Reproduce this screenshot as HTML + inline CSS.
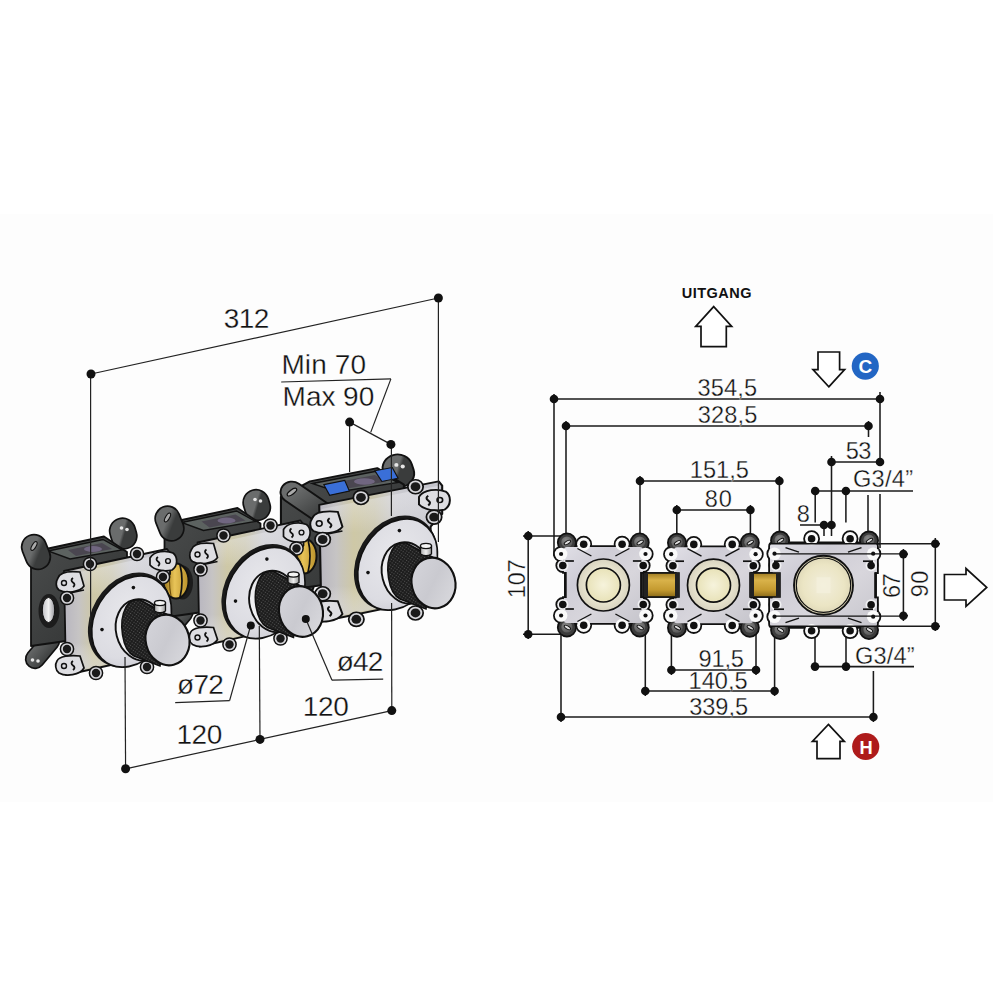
<!DOCTYPE html>
<html><head><meta charset="utf-8"><style>
html,body{margin:0;padding:0;background:#fff;}
svg{display:block;font-family:"Liberation Sans",sans-serif;}
</style></head><body>
<svg width="1000" height="1000" viewBox="0 0 1000 1000">
<rect width="1000" height="1000" fill="#fff"/>
<rect x="0" y="214" width="993" height="588" fill="#fdfdfd"/>

<defs>
<linearGradient id="plateG" x1="0" y1="0" x2="1" y2="1">
 <stop offset="0" stop-color="#e0dfe6"/><stop offset="0.3" stop-color="#cfcdd6"/><stop offset="0.6" stop-color="#d8d6dc"/><stop offset="1" stop-color="#c6c5cc"/>
</linearGradient>
<radialGradient id="ringG"><stop offset="0.6" stop-color="#ece8d2"/><stop offset="1" stop-color="#d8d3bf"/></radialGradient>
<radialGradient id="yelG"><stop offset="0" stop-color="#f6f3dc"/><stop offset="1" stop-color="#e8e2b8"/></radialGradient>
<radialGradient id="yelG2"><stop offset="0" stop-color="#f2eedc"/><stop offset="0.7" stop-color="#ebe5c4"/><stop offset="1" stop-color="#ddd6b6"/></radialGradient>
<linearGradient id="brassG" x1="0" y1="0" x2="0" y2="1">
 <stop offset="0" stop-color="#a07c22"/><stop offset="0.3" stop-color="#d9b24a"/><stop offset="0.7" stop-color="#c49a30"/><stop offset="1" stop-color="#8a6a18"/>
</linearGradient>
<linearGradient id="brassL" x1="0" y1="0" x2="1" y2="0">
 <stop offset="0" stop-color="#8a6a18"/><stop offset="0.5" stop-color="#d8b040"/><stop offset="1" stop-color="#a07c22"/>
</linearGradient>
<radialGradient id="earR" cx="0.4" cy="0.35" r="0.7"><stop offset="0" stop-color="#8a8a8a"/><stop offset="1" stop-color="#555"/></radialGradient>
<linearGradient id="earG" x1="0" y1="0" x2="1" y2="1"><stop offset="0" stop-color="#6a6c6c"/><stop offset="1" stop-color="#3a3c3c"/></linearGradient>
<linearGradient id="boxG" x1="0" y1="0" x2="1" y2="1"><stop offset="0" stop-color="#4b4d4d"/><stop offset="1" stop-color="#2e3030"/></linearGradient>
<linearGradient id="holeG" x1="0" y1="0" x2="1" y2="0"><stop offset="0" stop-color="#bfbfc4"/><stop offset="0.5" stop-color="#f0f0f0"/><stop offset="1" stop-color="#9a9aa0"/></linearGradient>
<linearGradient id="fplateG" x1="0" y1="0" x2="1" y2="0">
 <stop offset="0" stop-color="#b8b6c0"/><stop offset="0.14" stop-color="#c6c4c4"/><stop offset="0.28" stop-color="#cec8a6"/><stop offset="0.45" stop-color="#cbc7b0"/><stop offset="0.62" stop-color="#cbcbd0"/><stop offset="1" stop-color="#c2c2ca"/>
</linearGradient>
<radialGradient id="chromeG" cx="0.45" cy="0.4" r="0.7">
 <stop offset="0" stop-color="#e8e8ec"/><stop offset="0.7" stop-color="#dcdce2"/><stop offset="1" stop-color="#c8c8d0"/>
</radialGradient>
<linearGradient id="fplateV" x1="0" y1="0" x2="0" y2="1">
 <stop offset="0" stop-color="#e8e8ee"/><stop offset="0.35" stop-color="#ffffff" stop-opacity="0"/><stop offset="0.75" stop-color="#ffffff" stop-opacity="0"/><stop offset="1" stop-color="#d8d8e0"/>
</linearGradient>
<linearGradient id="brassE" x1="0" y1="0" x2="1" y2="0"><stop offset="0" stop-color="#9a7418"/><stop offset="0.45" stop-color="#e8c458"/><stop offset="1" stop-color="#b8902a"/></linearGradient>
<linearGradient id="sleeveG" x1="0" y1="0" x2="1" y2="0"><stop offset="0" stop-color="#f4f4f6"/><stop offset="1" stop-color="#b8b8be"/></linearGradient>
<linearGradient id="capG" x1="0" y1="0" x2="1" y2="1"><stop offset="0" stop-color="#d6d6dc"/><stop offset="0.5" stop-color="#cacad0"/><stop offset="1" stop-color="#dcdce0"/></linearGradient>
<linearGradient id="pinG" x1="0" y1="0" x2="1" y2="0"><stop offset="0" stop-color="#aaa"/><stop offset="0.5" stop-color="#eee"/><stop offset="1" stop-color="#999"/></linearGradient>
<pattern id="knurl" width="2.6" height="2.6" patternUnits="userSpaceOnUse" patternTransform="rotate(35)">
 <rect width="2.6" height="2.6" fill="#1c1c1c"/><circle cx="1.3" cy="1.3" r="0.65" fill="#555"/>
</pattern>
</defs>

<g transform="translate(266,-57)">
<g transform="translate(131.4,621.5) scale(1.16,1.065) translate(-131.4,-621.5)">
<g transform="translate(9,0)">
<line x1="122.5" y1="531" x2="124" y2="536" stroke="#111" stroke-width="27.4" stroke-linecap="round"/><line x1="122.5" y1="531" x2="124" y2="536" stroke="url(#earG)" stroke-width="24" stroke-linecap="round"/>
<circle cx="121.5" cy="528" r="1.8" fill="#e6e6e6"/><circle cx="127" cy="529.5" r="1.8" fill="#e6e6e6"/>
</g>
<line x1="35" y1="659" x2="50" y2="641" stroke="#111" stroke-width="20.4" stroke-linecap="round"/><line x1="35" y1="659" x2="50" y2="641" stroke="url(#earG)" stroke-width="17" stroke-linecap="round"/>
<circle cx="32.5" cy="660" r="1.8" fill="#e6e6e6"/><circle cx="38" cy="661" r="1.8" fill="#e6e6e6"/>
<path d="M31,558 L56,543.5 L114,531.0 L137,546.5 L137,554.5 L66,573 L66,641 L31,646 Z" fill="url(#boxG)" stroke="#111" stroke-width="1.8" stroke-linejoin="round"/>
<path d="M58,545.5 L113,534.0 L132,544.5 L80,553.5 Z" fill="#5c6260" stroke="#111" stroke-width="1.4"/>
<path d="M78,544.5 L112,537.5 L122,543.5 L86,550.5 Z" fill="#4a4650"/>
<ellipse cx="103" cy="543.5" rx="9" ry="3" fill="#8a7ca0" opacity="0.6"/>
<path d="M68,546.5 L86,542.5 L90,552.5 L73,556.5 Z" fill="#3a6fd8" stroke="#111" stroke-width="1"/>
<path d="M112,533.5 L127,530.5 L132,540.5 L118,543.5 Z" fill="#3a6fd8" stroke="#111" stroke-width="1"/>
<g transform="translate(9.5,8.5)">
<line x1="31" y1="545" x2="59" y2="566" stroke="#111" stroke-width="21.4" stroke-linecap="round"/><line x1="31" y1="545" x2="59" y2="566" stroke="url(#earG)" stroke-width="18" stroke-linecap="round"/>
<ellipse cx="31" cy="545" rx="5" ry="2" transform="rotate(-40 31 545)" fill="#aaa" stroke="#111" stroke-width="1.1"/>
</g>
<ellipse cx="49" cy="611" rx="10.5" ry="17" fill="#1c1c1c"/>
<ellipse cx="48.5" cy="610" rx="6.2" ry="12.5" fill="url(#holeG)" stroke="#111" stroke-width="1"/>
</g>
<g transform="translate(38,613)"><ellipse cx="0" cy="0" rx="12.5" ry="17.5" fill="url(#brassE)" stroke="#111" stroke-width="1.9"/><path d="M4,-16.5 Q8,0 4,16.5" fill="none" stroke="#111" stroke-width="1.7"/><path d="M-5,-15 Q-8,0 -5,15" fill="none" stroke="#6a4a08" stroke-width="1.1"/></g>
<g transform="translate(131.4,621.5) scale(1.16,1.065) translate(-131.4,-621.5)">
<path d="M64,565.5 L167,543.5 L170,547.5 L170,574 L160,586 L160,654 L66,675 Z" fill="url(#fplateG)" stroke="#111" stroke-width="1.8" stroke-linejoin="round"/>
<path d="M66,569.5 L167,547.5 L168,574 L158,586 L158,653 L66,673 Z" fill="url(#fplateV)" opacity="0.55"/>
<path d="M58,578 C60,572 70,571 80,572 L84,586 C80,592 66,594 59,590 C55,587 56,581 58,578 Z" fill="#dedee2" stroke="#111" stroke-width="1.7"/>
<path d="M57,661 C59,656 70,655 80,656 L84,668 C80,675 66,677 59,673 C55,670 55,664 57,661 Z" fill="#dedee2" stroke="#111" stroke-width="1.7"/>
<path d="M150,558 C154,551 166,550 173,553 C178,557 178,566 172,570 C164,572 154,570 150,565 Z" fill="#dedee2" stroke="#111" stroke-width="1.7"/>
<circle cx="67" cy="598" r="6.6" fill="#d6d6da" stroke="#111" stroke-width="1.5"/>
<circle cx="67" cy="598" r="4.2" fill="#1a1a1a"/>
<circle cx="67" cy="649" r="6.6" fill="#d6d6da" stroke="#111" stroke-width="1.5"/>
<circle cx="67" cy="649" r="4.2" fill="#1a1a1a"/>
<circle cx="96" cy="673" r="6.6" fill="#d6d6da" stroke="#111" stroke-width="1.5"/>
<circle cx="96" cy="673" r="4.2" fill="#1a1a1a"/>
<circle cx="100" cy="558.5" r="6.6" fill="#d6d6da" stroke="#111" stroke-width="1.5"/>
<circle cx="100" cy="558.5" r="4.2" fill="#1a1a1a"/>
<circle cx="147" cy="548.5" r="6.6" fill="#d6d6da" stroke="#111" stroke-width="1.5"/>
<circle cx="147" cy="548.5" r="4.2" fill="#1a1a1a"/>
<circle cx="163" cy="577" r="6.6" fill="#d6d6da" stroke="#111" stroke-width="1.5"/>
<circle cx="163" cy="577" r="4.2" fill="#1a1a1a"/>
<circle cx="147" cy="667" r="6.6" fill="#d6d6da" stroke="#111" stroke-width="1.5"/>
<circle cx="147" cy="667" r="4.2" fill="#1a1a1a"/>
<circle cx="64" cy="583" r="2.5" fill="none" stroke="#111" stroke-width="1.4"/>
<path d="M73,578 q-3,2 0,4.5 q3,2 0,4.5" fill="none" stroke="#111" stroke-width="1.8"/>
<circle cx="64" cy="666" r="2.5" fill="none" stroke="#111" stroke-width="1.4"/>
<path d="M73,661 q-3,2 0,4.5 q3,2 0,4.5" fill="none" stroke="#111" stroke-width="1.8"/>
<circle cx="168" cy="561" r="2.4" fill="none" stroke="#111" stroke-width="1.4"/>
<path d="M158,557 q-3,2 0,4.5 q3,2 0,4.5" fill="none" stroke="#111" stroke-width="1.8"/>
<line x1="70" y1="593" x2="84" y2="590" stroke="#111" stroke-width="1.5"/>
</g>
<g transform="matrix(40.8,-7.5,-2.6,45.8,129.6,619.8)"><circle r="1.02" fill="#1a1a1a"/></g>
<g transform="matrix(39.8,-7.5,-2.6,45,131.6,621.5)"><circle r="1" fill="url(#chromeG)" stroke="#111" stroke-width="0.04"/></g>
<circle cx="133.4" cy="587.6" r="1.8" fill="#111"/><circle cx="102" cy="629.6" r="1.8" fill="#111"/>
<ellipse cx="141" cy="630" rx="25" ry="31" transform="rotate(-14 141 630)" fill="url(#sleeveG)" stroke="#111" stroke-width="1.9"/>
<path d="M140,600 L168,615 L160,666 L134,656 C122,650 118,622 126,607 C129,602 134,599 140,600 Z" fill="url(#knurl)" stroke="#111" stroke-width="1.5"/>
<path d="M154.5,603 L154.5,611 Q160,614.5 165.5,611 L165.5,603 Z" fill="url(#pinG)" stroke="#111" stroke-width="1.3"/>
<ellipse cx="160" cy="603" rx="5.5" ry="2.6" fill="#f4f4f4" stroke="#111" stroke-width="1.3"/>
<ellipse cx="167.5" cy="640" rx="21.8" ry="25.5" transform="rotate(-14 167.5 640)" fill="url(#capG)" stroke="#111" stroke-width="2.1"/>
</g>
<g transform="translate(133.5,-28.5)">
<g transform="translate(131.4,621.5) scale(1.0,1.0) translate(-131.4,-621.5)">
<g transform="translate(0,0)">
<line x1="122.5" y1="531" x2="124" y2="536" stroke="#111" stroke-width="27.4" stroke-linecap="round"/><line x1="122.5" y1="531" x2="124" y2="536" stroke="url(#earG)" stroke-width="24" stroke-linecap="round"/>
<circle cx="121.5" cy="528" r="1.8" fill="#e6e6e6"/><circle cx="127" cy="529.5" r="1.8" fill="#e6e6e6"/>
</g>
<line x1="35" y1="659" x2="50" y2="641" stroke="#111" stroke-width="20.4" stroke-linecap="round"/><line x1="35" y1="659" x2="50" y2="641" stroke="url(#earG)" stroke-width="17" stroke-linecap="round"/>
<circle cx="32.5" cy="660" r="1.8" fill="#e6e6e6"/><circle cx="38" cy="661" r="1.8" fill="#e6e6e6"/>
<path d="M31,558 L46,549 L104,536.5 L127,552 L127,560 L66,573 L66,641 L31,646 Z" fill="url(#boxG)" stroke="#111" stroke-width="1.8" stroke-linejoin="round"/>
<path d="M48,551 L103,539.5 L122,550 L70,559 Z" fill="#5c6260" stroke="#111" stroke-width="1.4"/>
<path d="M68,550 L102,543 L112,549 L76,556 Z" fill="#4a4650"/>
<ellipse cx="93" cy="549" rx="9" ry="3" fill="#8a7ca0" opacity="0.6"/>
<g transform="translate(0,0)">
<line x1="34" y1="547" x2="38" y2="557" stroke="#111" stroke-width="26.4" stroke-linecap="round"/><line x1="34" y1="547" x2="38" y2="557" stroke="url(#earG)" stroke-width="23" stroke-linecap="round"/>
<ellipse cx="34" cy="546" rx="5" ry="2" transform="rotate(-60 34 546)" fill="#aaa" stroke="#111" stroke-width="1.1"/>
</g>
<ellipse cx="49" cy="611" rx="10.5" ry="17" fill="#1c1c1c"/>
<ellipse cx="48.5" cy="610" rx="6.2" ry="12.5" fill="url(#holeG)" stroke="#111" stroke-width="1"/>
</g>
<g transform="translate(42.5,609.5)"><ellipse cx="0" cy="0" rx="12.5" ry="17.5" fill="url(#brassE)" stroke="#111" stroke-width="1.9"/><path d="M4,-16.5 Q8,0 4,16.5" fill="none" stroke="#111" stroke-width="1.7"/><path d="M-5,-15 Q-8,0 -5,15" fill="none" stroke="#6a4a08" stroke-width="1.1"/></g>
<g transform="translate(131.4,621.5) scale(1.0,1.0) translate(-131.4,-621.5)">
<path d="M64,571 L167,549 L170,553 L170,574 L160,586 L160,654 L66,675 Z" fill="url(#fplateG)" stroke="#111" stroke-width="1.8" stroke-linejoin="round"/>
<path d="M66,575 L167,553 L168,574 L158,586 L158,653 L66,673 Z" fill="url(#fplateV)" opacity="0.55"/>
<path d="M58,578 C60,572 70,571 80,572 L84,586 C80,592 66,594 59,590 C55,587 56,581 58,578 Z" fill="#dedee2" stroke="#111" stroke-width="1.7"/>
<path d="M57,661 C59,656 70,655 80,656 L84,668 C80,675 66,677 59,673 C55,670 55,664 57,661 Z" fill="#dedee2" stroke="#111" stroke-width="1.7"/>
<path d="M150,558 C154,551 166,550 173,553 C178,557 178,566 172,570 C164,572 154,570 150,565 Z" fill="#dedee2" stroke="#111" stroke-width="1.7"/>
<circle cx="67" cy="598" r="6.6" fill="#d6d6da" stroke="#111" stroke-width="1.5"/>
<circle cx="67" cy="598" r="4.2" fill="#1a1a1a"/>
<circle cx="67" cy="649" r="6.6" fill="#d6d6da" stroke="#111" stroke-width="1.5"/>
<circle cx="67" cy="649" r="4.2" fill="#1a1a1a"/>
<circle cx="96" cy="673" r="6.6" fill="#d6d6da" stroke="#111" stroke-width="1.5"/>
<circle cx="96" cy="673" r="4.2" fill="#1a1a1a"/>
<circle cx="90" cy="564" r="6.6" fill="#d6d6da" stroke="#111" stroke-width="1.5"/>
<circle cx="90" cy="564" r="4.2" fill="#1a1a1a"/>
<circle cx="137" cy="554" r="6.6" fill="#d6d6da" stroke="#111" stroke-width="1.5"/>
<circle cx="137" cy="554" r="4.2" fill="#1a1a1a"/>
<circle cx="163" cy="577" r="6.6" fill="#d6d6da" stroke="#111" stroke-width="1.5"/>
<circle cx="163" cy="577" r="4.2" fill="#1a1a1a"/>
<circle cx="147" cy="667" r="6.6" fill="#d6d6da" stroke="#111" stroke-width="1.5"/>
<circle cx="147" cy="667" r="4.2" fill="#1a1a1a"/>
<circle cx="64" cy="583" r="2.5" fill="none" stroke="#111" stroke-width="1.4"/>
<path d="M73,578 q-3,2 0,4.5 q3,2 0,4.5" fill="none" stroke="#111" stroke-width="1.8"/>
<circle cx="64" cy="666" r="2.5" fill="none" stroke="#111" stroke-width="1.4"/>
<path d="M73,661 q-3,2 0,4.5 q3,2 0,4.5" fill="none" stroke="#111" stroke-width="1.8"/>
<circle cx="168" cy="561" r="2.4" fill="none" stroke="#111" stroke-width="1.4"/>
<path d="M158,557 q-3,2 0,4.5 q3,2 0,4.5" fill="none" stroke="#111" stroke-width="1.8"/>
<line x1="70" y1="593" x2="84" y2="590" stroke="#111" stroke-width="1.5"/>
</g>
<g transform="matrix(40.8,-7.5,-2.6,45.8,129.6,619.8)"><circle r="1.02" fill="#1a1a1a"/></g>
<g transform="matrix(39.8,-7.5,-2.6,45,131.6,621.5)"><circle r="1" fill="url(#chromeG)" stroke="#111" stroke-width="0.04"/></g>
<circle cx="133.4" cy="587.6" r="1.8" fill="#111"/><circle cx="102" cy="629.6" r="1.8" fill="#111"/>
<ellipse cx="141" cy="630" rx="25" ry="31" transform="rotate(-14 141 630)" fill="url(#sleeveG)" stroke="#111" stroke-width="1.9"/>
<path d="M140,600 L168,615 L160,666 L134,656 C122,650 118,622 126,607 C129,602 134,599 140,600 Z" fill="url(#knurl)" stroke="#111" stroke-width="1.5"/>
<path d="M154.5,603 L154.5,611 Q160,614.5 165.5,611 L165.5,603 Z" fill="url(#pinG)" stroke="#111" stroke-width="1.3"/>
<ellipse cx="160" cy="603" rx="5.5" ry="2.6" fill="#f4f4f4" stroke="#111" stroke-width="1.3"/>
<ellipse cx="167.5" cy="640" rx="21.8" ry="25.5" transform="rotate(-14 167.5 640)" fill="url(#capG)" stroke="#111" stroke-width="2.1"/>
</g>
<g transform="translate(0,0)">
<g transform="translate(131.4,621.5) scale(1.0,1.0) translate(-131.4,-621.5)">
<g transform="translate(0,0)">
<line x1="122.5" y1="531" x2="124" y2="536" stroke="#111" stroke-width="27.4" stroke-linecap="round"/><line x1="122.5" y1="531" x2="124" y2="536" stroke="url(#earG)" stroke-width="24" stroke-linecap="round"/>
<circle cx="121.5" cy="528" r="1.8" fill="#e6e6e6"/><circle cx="127" cy="529.5" r="1.8" fill="#e6e6e6"/>
</g>
<line x1="35" y1="659" x2="50" y2="641" stroke="#111" stroke-width="20.4" stroke-linecap="round"/><line x1="35" y1="659" x2="50" y2="641" stroke="url(#earG)" stroke-width="17" stroke-linecap="round"/>
<circle cx="32.5" cy="660" r="1.8" fill="#e6e6e6"/><circle cx="38" cy="661" r="1.8" fill="#e6e6e6"/>
<path d="M31,558 L46,549 L104,536.5 L127,552 L127,560 L66,573 L66,641 L31,646 Z" fill="url(#boxG)" stroke="#111" stroke-width="1.8" stroke-linejoin="round"/>
<path d="M48,551 L103,539.5 L122,550 L70,559 Z" fill="#5c6260" stroke="#111" stroke-width="1.4"/>
<path d="M68,550 L102,543 L112,549 L76,556 Z" fill="#4a4650"/>
<ellipse cx="93" cy="549" rx="9" ry="3" fill="#8a7ca0" opacity="0.6"/>
<g transform="translate(0,0)">
<line x1="34" y1="547" x2="38" y2="557" stroke="#111" stroke-width="26.4" stroke-linecap="round"/><line x1="34" y1="547" x2="38" y2="557" stroke="url(#earG)" stroke-width="23" stroke-linecap="round"/>
<ellipse cx="34" cy="546" rx="5" ry="2" transform="rotate(-60 34 546)" fill="#aaa" stroke="#111" stroke-width="1.1"/>
</g>
<ellipse cx="49" cy="611" rx="10.5" ry="17" fill="#1c1c1c"/>
<ellipse cx="48.5" cy="610" rx="6.2" ry="12.5" fill="url(#holeG)" stroke="#111" stroke-width="1"/>
<path d="M64,571 L167,549 L170,553 L170,574 L160,586 L160,654 L66,675 Z" fill="url(#fplateG)" stroke="#111" stroke-width="1.8" stroke-linejoin="round"/>
<path d="M66,575 L167,553 L168,574 L158,586 L158,653 L66,673 Z" fill="url(#fplateV)" opacity="0.55"/>
<path d="M58,578 C60,572 70,571 80,572 L84,586 C80,592 66,594 59,590 C55,587 56,581 58,578 Z" fill="#dedee2" stroke="#111" stroke-width="1.7"/>
<path d="M57,661 C59,656 70,655 80,656 L84,668 C80,675 66,677 59,673 C55,670 55,664 57,661 Z" fill="#dedee2" stroke="#111" stroke-width="1.7"/>
<path d="M150,558 C154,551 166,550 173,553 C178,557 178,566 172,570 C164,572 154,570 150,565 Z" fill="#dedee2" stroke="#111" stroke-width="1.7"/>
<circle cx="67" cy="598" r="6.6" fill="#d6d6da" stroke="#111" stroke-width="1.5"/>
<circle cx="67" cy="598" r="4.2" fill="#1a1a1a"/>
<circle cx="67" cy="649" r="6.6" fill="#d6d6da" stroke="#111" stroke-width="1.5"/>
<circle cx="67" cy="649" r="4.2" fill="#1a1a1a"/>
<circle cx="96" cy="673" r="6.6" fill="#d6d6da" stroke="#111" stroke-width="1.5"/>
<circle cx="96" cy="673" r="4.2" fill="#1a1a1a"/>
<circle cx="90" cy="564" r="6.6" fill="#d6d6da" stroke="#111" stroke-width="1.5"/>
<circle cx="90" cy="564" r="4.2" fill="#1a1a1a"/>
<circle cx="137" cy="554" r="6.6" fill="#d6d6da" stroke="#111" stroke-width="1.5"/>
<circle cx="137" cy="554" r="4.2" fill="#1a1a1a"/>
<circle cx="163" cy="577" r="6.6" fill="#d6d6da" stroke="#111" stroke-width="1.5"/>
<circle cx="163" cy="577" r="4.2" fill="#1a1a1a"/>
<circle cx="147" cy="667" r="6.6" fill="#d6d6da" stroke="#111" stroke-width="1.5"/>
<circle cx="147" cy="667" r="4.2" fill="#1a1a1a"/>
<circle cx="64" cy="583" r="2.5" fill="none" stroke="#111" stroke-width="1.4"/>
<path d="M73,578 q-3,2 0,4.5 q3,2 0,4.5" fill="none" stroke="#111" stroke-width="1.8"/>
<circle cx="64" cy="666" r="2.5" fill="none" stroke="#111" stroke-width="1.4"/>
<path d="M73,661 q-3,2 0,4.5 q3,2 0,4.5" fill="none" stroke="#111" stroke-width="1.8"/>
<circle cx="168" cy="561" r="2.4" fill="none" stroke="#111" stroke-width="1.4"/>
<path d="M158,557 q-3,2 0,4.5 q3,2 0,4.5" fill="none" stroke="#111" stroke-width="1.8"/>
<line x1="70" y1="593" x2="84" y2="590" stroke="#111" stroke-width="1.5"/>
</g>
<g transform="matrix(40.8,-7.5,-2.6,45.8,129.6,619.8)"><circle r="1.02" fill="#1a1a1a"/></g>
<g transform="matrix(39.8,-7.5,-2.6,45,131.6,621.5)"><circle r="1" fill="url(#chromeG)" stroke="#111" stroke-width="0.04"/></g>
<circle cx="133.4" cy="587.6" r="1.8" fill="#111"/><circle cx="102" cy="629.6" r="1.8" fill="#111"/>
<ellipse cx="141" cy="630" rx="25" ry="31" transform="rotate(-14 141 630)" fill="url(#sleeveG)" stroke="#111" stroke-width="1.9"/>
<path d="M140,600 L168,615 L160,666 L134,656 C122,650 118,622 126,607 C129,602 134,599 140,600 Z" fill="url(#knurl)" stroke="#111" stroke-width="1.5"/>
<path d="M154.5,603 L154.5,611 Q160,614.5 165.5,611 L165.5,603 Z" fill="url(#pinG)" stroke="#111" stroke-width="1.3"/>
<ellipse cx="160" cy="603" rx="5.5" ry="2.6" fill="#f4f4f4" stroke="#111" stroke-width="1.3"/>
<ellipse cx="167.5" cy="640" rx="21.8" ry="25.5" transform="rotate(-14 167.5 640)" fill="url(#capG)" stroke="#111" stroke-width="2.1"/>
</g>
<line x1="91" y1="374" x2="438.4" y2="298" stroke="#222" stroke-width="1.2"/>
<line x1="90.6" y1="374" x2="90.6" y2="622" stroke="#222" stroke-width="1.2"/>
<line x1="438.4" y1="298" x2="438.4" y2="542" stroke="#222" stroke-width="1.2"/>
<circle cx="91" cy="374" r="4.5" fill="#111"/>
<circle cx="438.4" cy="298" r="4.5" fill="#111"/>
<line x1="281.2" y1="382" x2="390.9" y2="378.9" stroke="#222" stroke-width="1.2"/>
<line x1="390.9" y1="378.9" x2="370.7" y2="432.4" stroke="#222" stroke-width="1.2"/>
<line x1="349.6" y1="422.1" x2="390.9" y2="444.4" stroke="#222" stroke-width="1.2"/>
<line x1="349.6" y1="422" x2="349.6" y2="472" stroke="#222" stroke-width="1.2"/>
<line x1="391.4" y1="444" x2="391.4" y2="516" stroke="#222" stroke-width="1.2"/>
<line x1="391.6" y1="603" x2="391.8" y2="710.6" stroke="#222" stroke-width="1.2"/>
<circle cx="349.6" cy="422.1" r="4.5" fill="#111"/>
<circle cx="390.9" cy="444.4" r="4.5" fill="#111"/>
<line x1="125.6" y1="768.8" x2="391.8" y2="710.6" stroke="#222" stroke-width="1.2"/>
<line x1="125" y1="657" x2="125.6" y2="768.8" stroke="#222" stroke-width="1.2"/>
<line x1="259.3" y1="626" x2="260" y2="739.4" stroke="#222" stroke-width="1.2"/>
<circle cx="125.6" cy="768.8" r="4.5" fill="#111"/>
<circle cx="260" cy="739.4" r="4.5" fill="#111"/>
<circle cx="391.8" cy="710.6" r="4.5" fill="#111"/>
<line x1="250.8" y1="625" x2="229.6" y2="700.6" stroke="#222" stroke-width="1.2"/>
<line x1="229.6" y1="700.6" x2="175.2" y2="702.6" stroke="#222" stroke-width="1.2"/>
<circle cx="250.8" cy="625.5" r="4" fill="#111"/>
<line x1="305.8" y1="619" x2="332" y2="680.2" stroke="#222" stroke-width="1.2"/>
<line x1="332" y1="680.2" x2="383.2" y2="679.2" stroke="#222" stroke-width="1.2"/>
<circle cx="305.8" cy="619" r="4" fill="#111"/>
<g fill="#111" stroke="#fff" stroke-width="0.3" font-family="Liberation Sans, sans-serif"><text x="223.8" y="327.65" font-size="28" textLength="45.52" lengthAdjust="spacing">312</text><text x="281.4" y="374.45" font-size="28" textLength="84.64" lengthAdjust="spacing">Min 70</text><text x="282.6" y="405.85" font-size="28" textLength="91.62" lengthAdjust="spacing">Max 90</text><text x="176.4" y="743.6" font-size="28" textLength="45.92" lengthAdjust="spacing">120</text><text x="302.8" y="715.6" font-size="28" textLength="45.92" lengthAdjust="spacing">120</text><text x="177.1" y="693.55" font-size="28" textLength="46.65" lengthAdjust="spacing">&#248;72</text><text x="336.8" y="671.0" font-size="28" textLength="46.65" lengthAdjust="spacing">&#248;42</text></g>
<g><line x1="554" y1="394" x2="554" y2="556" stroke="#1a1a1a" stroke-width="1.55"/><line x1="554" y1="399" x2="880" y2="399" stroke="#1a1a1a" stroke-width="1.55"/><line x1="880" y1="392" x2="880" y2="462" stroke="#1a1a1a" stroke-width="1.55"/><line x1="880" y1="494" x2="880" y2="548" stroke="#1a1a1a" stroke-width="1.55"/><line x1="566" y1="421" x2="566" y2="540" stroke="#1a1a1a" stroke-width="1.55"/><line x1="566" y1="426" x2="868.5" y2="426" stroke="#1a1a1a" stroke-width="1.55"/><line x1="868.5" y1="421" x2="868.5" y2="437" stroke="#1a1a1a" stroke-width="1.55"/><line x1="868" y1="495" x2="868" y2="545" stroke="#1a1a1a" stroke-width="1.55"/><line x1="831.5" y1="456" x2="831.5" y2="536" stroke="#1a1a1a" stroke-width="1.55"/><line x1="831.5" y1="462" x2="880" y2="462" stroke="#1a1a1a" stroke-width="1.55"/><line x1="640" y1="476" x2="640" y2="540" stroke="#1a1a1a" stroke-width="1.55"/><line x1="640" y1="481" x2="779.4" y2="481" stroke="#1a1a1a" stroke-width="1.55"/><line x1="779.4" y1="476" x2="779.4" y2="540" stroke="#1a1a1a" stroke-width="1.55"/><line x1="676.8" y1="505" x2="676.8" y2="540" stroke="#1a1a1a" stroke-width="1.55"/><line x1="676.8" y1="510" x2="750.4" y2="510" stroke="#1a1a1a" stroke-width="1.55"/><line x1="750.4" y1="505" x2="750.4" y2="540" stroke="#1a1a1a" stroke-width="1.55"/><line x1="815.2" y1="491" x2="913" y2="491" stroke="#1a1a1a" stroke-width="1.55"/><line x1="815.2" y1="491" x2="815.2" y2="522.5" stroke="#1a1a1a" stroke-width="1.55"/><line x1="845.9" y1="491" x2="845.9" y2="522.5" stroke="#1a1a1a" stroke-width="1.55"/><line x1="800" y1="525" x2="831.5" y2="525" stroke="#1a1a1a" stroke-width="1.55"/><line x1="824" y1="525" x2="824" y2="536" stroke="#1a1a1a" stroke-width="1.55"/><line x1="671.4" y1="628" x2="671.4" y2="675" stroke="#1a1a1a" stroke-width="1.55"/><line x1="671.4" y1="670" x2="756" y2="670" stroke="#1a1a1a" stroke-width="1.55"/><line x1="756" y1="628" x2="756" y2="675" stroke="#1a1a1a" stroke-width="1.55"/><line x1="645.3" y1="628" x2="645.3" y2="696" stroke="#1a1a1a" stroke-width="1.55"/><line x1="645.3" y1="691" x2="774.6" y2="691" stroke="#1a1a1a" stroke-width="1.55"/><line x1="774.6" y1="628" x2="774.6" y2="696" stroke="#1a1a1a" stroke-width="1.55"/><line x1="561" y1="620" x2="561" y2="722" stroke="#1a1a1a" stroke-width="1.55"/><line x1="561" y1="717" x2="873.4" y2="717" stroke="#1a1a1a" stroke-width="1.55"/><line x1="873.4" y1="671" x2="873.4" y2="722" stroke="#1a1a1a" stroke-width="1.55"/><line x1="815" y1="636" x2="815" y2="667" stroke="#1a1a1a" stroke-width="1.55"/><line x1="846" y1="636" x2="846" y2="667" stroke="#1a1a1a" stroke-width="1.55"/><line x1="815" y1="666.6" x2="914" y2="666.6" stroke="#1a1a1a" stroke-width="1.55"/><line x1="528.2" y1="531" x2="528.2" y2="639" stroke="#1a1a1a" stroke-width="1.55"/><line x1="523" y1="536" x2="568" y2="536" stroke="#1a1a1a" stroke-width="1.55"/><line x1="523" y1="634.2" x2="568" y2="634.2" stroke="#1a1a1a" stroke-width="1.55"/><line x1="935.3" y1="538" x2="935.3" y2="631" stroke="#1a1a1a" stroke-width="1.55"/><line x1="860" y1="543.7" x2="940" y2="543.7" stroke="#1a1a1a" stroke-width="1.55"/><line x1="860" y1="626.3" x2="940" y2="626.3" stroke="#1a1a1a" stroke-width="1.55"/><line x1="903.4" y1="549" x2="903.4" y2="621" stroke="#1a1a1a" stroke-width="1.55"/><line x1="903.4" y1="554.1" x2="908" y2="554.1" stroke="#1a1a1a" stroke-width="1.55"/><line x1="903.4" y1="615.7" x2="908" y2="615.7" stroke="#1a1a1a" stroke-width="1.55"/></g>
<rect x="644" y="573" width="35" height="24" fill="url(#brassG)" stroke="#111" stroke-width="1.6"/>
<rect x="644" y="573" width="4" height="24" fill="#222"/>
<rect x="675" y="573" width="4" height="24" fill="#222"/>
<rect x="750" y="573" width="30" height="24" fill="url(#brassG)" stroke="#111" stroke-width="1.6"/>
<rect x="750" y="573" width="4" height="24" fill="#222"/>
<rect x="776" y="573" width="4" height="24" fill="#222"/>
<g transform="translate(603.4,585)">
<g fill="#111" stroke="#111" stroke-width="3.6"><circle cx="-36.5" cy="-42.5" r="8.2"/><circle cx="36.3" cy="-42.5" r="8.2"/><circle cx="-36.5" cy="42.5" r="8.2"/><circle cx="36.3" cy="42.5" r="8.2"/><circle cx="-19.7" cy="-40.8" r="6.6"/><circle cx="18.7" cy="-40.8" r="6.6"/><circle cx="-19.7" cy="40.3" r="6.6"/><circle cx="18.7" cy="40.3" r="6.6"/><circle cx="-42.3" cy="-31" r="6.3"/><circle cx="42.1" cy="-31" r="6.3"/><circle cx="-42.3" cy="30.5" r="6.3"/><circle cx="42.1" cy="30.5" r="6.3"/><circle cx="-40.6" cy="-19.5" r="5.6"/><circle cx="39.8" cy="-19.5" r="5.6"/><circle cx="-40.6" cy="19.5" r="5.6"/><circle cx="39.8" cy="19.5" r="5.6"/><path d="M-36.5,-38 H36.5 Q39.5,-38 39.5,-35 V-13 H37.5 V13 H39.5 V35 Q39.5,38 36.5,38 H-36.5 Q-39.5,38 -39.5,35 V13 H-37.5 V-13 H-39.5 V-35 Q-39.5,-38 -36.5,-38 Z"/></g>
<circle cx="-36.5" cy="-42.5" r="8.2" fill="#3c3c3c"/><circle cx="-36.5" cy="-43.0" r="5.6" fill="url(#earR)"/><circle cx="36.3" cy="-42.5" r="8.2" fill="#3c3c3c"/><circle cx="36.3" cy="-43.0" r="5.6" fill="url(#earR)"/><circle cx="-36.5" cy="42.5" r="8.2" fill="#3c3c3c"/><circle cx="-36.5" cy="42.0" r="5.6" fill="url(#earR)"/><circle cx="36.3" cy="42.5" r="8.2" fill="#3c3c3c"/><circle cx="36.3" cy="42.0" r="5.6" fill="url(#earR)"/><path d="M-36.5,-38 H36.5 Q39.5,-38 39.5,-35 V-13 H37.5 V13 H39.5 V35 Q39.5,38 36.5,38 H-36.5 Q-39.5,38 -39.5,35 V13 H-37.5 V-13 H-39.5 V-35 Q-39.5,-38 -36.5,-38 Z" fill="url(#plateG)"/><circle cx="-19.7" cy="-40.8" r="6.6" fill="#fafafa"/><circle cx="18.7" cy="-40.8" r="6.6" fill="#fafafa"/><circle cx="-19.7" cy="40.3" r="6.6" fill="#fafafa"/><circle cx="18.7" cy="40.3" r="6.6" fill="#fafafa"/><circle cx="-42.3" cy="-31" r="6.3" fill="#fafafa"/><circle cx="42.1" cy="-31" r="6.3" fill="#fafafa"/><circle cx="-42.3" cy="30.5" r="6.3" fill="#fafafa"/><circle cx="42.1" cy="30.5" r="6.3" fill="#fafafa"/><circle cx="-40.6" cy="-19.5" r="5.6" fill="#f0f0f2"/><circle cx="39.8" cy="-19.5" r="5.6" fill="#f0f0f2"/><circle cx="-40.6" cy="19.5" r="5.6" fill="#f0f0f2"/><circle cx="39.8" cy="19.5" r="5.6" fill="#f0f0f2"/>
<path d="M-38.0,-13 V13 M38.0,-13 V13" stroke="#111" stroke-width="2.6" fill="none"/>
<circle r="26" fill="url(#ringG)" stroke="#111" stroke-width="1.7"/><circle r="17" fill="url(#yelG)" stroke="#111" stroke-width="1.7"/>
<circle cx="-19.7" cy="-40.8" r="3.8" fill="#111"/><circle cx="18.7" cy="-40.8" r="3.8" fill="#111"/><circle cx="-19.7" cy="40.3" r="3.8" fill="#111"/><circle cx="18.7" cy="40.3" r="3.8" fill="#111"/><circle cx="-40.6" cy="-19.5" r="3.8" fill="#111"/><circle cx="39.8" cy="-19.5" r="3.8" fill="#111"/><circle cx="-40.6" cy="19.5" r="3.8" fill="#111"/><circle cx="39.8" cy="19.5" r="3.8" fill="#111"/><circle cx="-42.3" cy="-31" r="2.1" fill="#111"/><circle cx="42.1" cy="-31" r="2.1" fill="#111"/><circle cx="-42.3" cy="30.5" r="2.1" fill="#111"/><circle cx="42.1" cy="30.5" r="2.1" fill="#111"/><ellipse cx="-36.0" cy="-42.5" rx="3.6" ry="1.5" fill="#ddd" stroke="#111" stroke-width="0.9" transform="rotate(-30 -36.0 -42.5)"/><ellipse cx="36.8" cy="-42.5" rx="3.6" ry="1.5" fill="#ddd" stroke="#111" stroke-width="0.9" transform="rotate(-30 36.8 -42.5)"/><ellipse cx="-36.0" cy="42.5" rx="3.6" ry="1.5" fill="#ddd" stroke="#111" stroke-width="0.9" transform="rotate(30 -36.0 42.5)"/><ellipse cx="36.8" cy="42.5" rx="3.6" ry="1.5" fill="#ddd" stroke="#111" stroke-width="0.9" transform="rotate(30 36.8 42.5)"/>
<line x1="-38" y1="-24" x2="-29.5" y2="-24" stroke="#111" stroke-width="1.7"/><line x1="-26" y1="-36.5" x2="-12" y2="-29" stroke="#111" stroke-width="1.4"/><line x1="-38" y1="24" x2="-29.5" y2="24" stroke="#111" stroke-width="1.7"/><line x1="-26" y1="36.5" x2="-12" y2="29" stroke="#111" stroke-width="1.4"/><line x1="38" y1="-24" x2="29.5" y2="-24" stroke="#111" stroke-width="1.7"/><line x1="26" y1="-36.5" x2="12" y2="-29" stroke="#111" stroke-width="1.4"/><line x1="38" y1="24" x2="29.5" y2="24" stroke="#111" stroke-width="1.7"/><line x1="26" y1="36.5" x2="12" y2="29" stroke="#111" stroke-width="1.4"/>
</g>
<g transform="translate(713.5,585.2)">
<g fill="#111" stroke="#111" stroke-width="3.6"><circle cx="-36.5" cy="-42.5" r="8.2"/><circle cx="36.3" cy="-42.5" r="8.2"/><circle cx="-36.5" cy="42.5" r="8.2"/><circle cx="36.3" cy="42.5" r="8.2"/><circle cx="-19.7" cy="-40.8" r="6.6"/><circle cx="18.7" cy="-40.8" r="6.6"/><circle cx="-19.7" cy="40.3" r="6.6"/><circle cx="18.7" cy="40.3" r="6.6"/><circle cx="-42.3" cy="-31" r="6.3"/><circle cx="42.1" cy="-31" r="6.3"/><circle cx="-42.3" cy="30.5" r="6.3"/><circle cx="42.1" cy="30.5" r="6.3"/><circle cx="-40.6" cy="-19.5" r="5.6"/><circle cx="39.8" cy="-19.5" r="5.6"/><circle cx="-40.6" cy="19.5" r="5.6"/><circle cx="39.8" cy="19.5" r="5.6"/><path d="M-36.5,-38 H36.5 Q39.5,-38 39.5,-35 V-13 H37.5 V13 H39.5 V35 Q39.5,38 36.5,38 H-36.5 Q-39.5,38 -39.5,35 V13 H-37.5 V-13 H-39.5 V-35 Q-39.5,-38 -36.5,-38 Z"/></g>
<circle cx="-36.5" cy="-42.5" r="8.2" fill="#3c3c3c"/><circle cx="-36.5" cy="-43.0" r="5.6" fill="url(#earR)"/><circle cx="36.3" cy="-42.5" r="8.2" fill="#3c3c3c"/><circle cx="36.3" cy="-43.0" r="5.6" fill="url(#earR)"/><circle cx="-36.5" cy="42.5" r="8.2" fill="#3c3c3c"/><circle cx="-36.5" cy="42.0" r="5.6" fill="url(#earR)"/><circle cx="36.3" cy="42.5" r="8.2" fill="#3c3c3c"/><circle cx="36.3" cy="42.0" r="5.6" fill="url(#earR)"/><path d="M-36.5,-38 H36.5 Q39.5,-38 39.5,-35 V-13 H37.5 V13 H39.5 V35 Q39.5,38 36.5,38 H-36.5 Q-39.5,38 -39.5,35 V13 H-37.5 V-13 H-39.5 V-35 Q-39.5,-38 -36.5,-38 Z" fill="url(#plateG)"/><circle cx="-19.7" cy="-40.8" r="6.6" fill="#fafafa"/><circle cx="18.7" cy="-40.8" r="6.6" fill="#fafafa"/><circle cx="-19.7" cy="40.3" r="6.6" fill="#fafafa"/><circle cx="18.7" cy="40.3" r="6.6" fill="#fafafa"/><circle cx="-42.3" cy="-31" r="6.3" fill="#fafafa"/><circle cx="42.1" cy="-31" r="6.3" fill="#fafafa"/><circle cx="-42.3" cy="30.5" r="6.3" fill="#fafafa"/><circle cx="42.1" cy="30.5" r="6.3" fill="#fafafa"/><circle cx="-40.6" cy="-19.5" r="5.6" fill="#f0f0f2"/><circle cx="39.8" cy="-19.5" r="5.6" fill="#f0f0f2"/><circle cx="-40.6" cy="19.5" r="5.6" fill="#f0f0f2"/><circle cx="39.8" cy="19.5" r="5.6" fill="#f0f0f2"/>
<path d="M-38.0,-13 V13 M38.0,-13 V13" stroke="#111" stroke-width="2.6" fill="none"/>
<circle r="26" fill="url(#ringG)" stroke="#111" stroke-width="1.7"/><circle r="17" fill="url(#yelG)" stroke="#111" stroke-width="1.7"/>
<circle cx="-19.7" cy="-40.8" r="3.8" fill="#111"/><circle cx="18.7" cy="-40.8" r="3.8" fill="#111"/><circle cx="-19.7" cy="40.3" r="3.8" fill="#111"/><circle cx="18.7" cy="40.3" r="3.8" fill="#111"/><circle cx="-40.6" cy="-19.5" r="3.8" fill="#111"/><circle cx="39.8" cy="-19.5" r="3.8" fill="#111"/><circle cx="-40.6" cy="19.5" r="3.8" fill="#111"/><circle cx="39.8" cy="19.5" r="3.8" fill="#111"/><circle cx="-42.3" cy="-31" r="2.1" fill="#111"/><circle cx="42.1" cy="-31" r="2.1" fill="#111"/><circle cx="-42.3" cy="30.5" r="2.1" fill="#111"/><circle cx="42.1" cy="30.5" r="2.1" fill="#111"/><ellipse cx="-36.0" cy="-42.5" rx="3.6" ry="1.5" fill="#ddd" stroke="#111" stroke-width="0.9" transform="rotate(-30 -36.0 -42.5)"/><ellipse cx="36.8" cy="-42.5" rx="3.6" ry="1.5" fill="#ddd" stroke="#111" stroke-width="0.9" transform="rotate(-30 36.8 -42.5)"/><ellipse cx="-36.0" cy="42.5" rx="3.6" ry="1.5" fill="#ddd" stroke="#111" stroke-width="0.9" transform="rotate(30 -36.0 42.5)"/><ellipse cx="36.8" cy="42.5" rx="3.6" ry="1.5" fill="#ddd" stroke="#111" stroke-width="0.9" transform="rotate(30 36.8 42.5)"/>
<line x1="-38" y1="-24" x2="-29.5" y2="-24" stroke="#111" stroke-width="1.7"/><line x1="-26" y1="-36.5" x2="-12" y2="-29" stroke="#111" stroke-width="1.4"/><line x1="-38" y1="24" x2="-29.5" y2="24" stroke="#111" stroke-width="1.7"/><line x1="-26" y1="36.5" x2="-12" y2="29" stroke="#111" stroke-width="1.4"/><line x1="38" y1="-24" x2="29.5" y2="-24" stroke="#111" stroke-width="1.7"/><line x1="26" y1="-36.5" x2="12" y2="-29" stroke="#111" stroke-width="1.4"/><line x1="38" y1="24" x2="29.5" y2="24" stroke="#111" stroke-width="1.7"/><line x1="26" y1="36.5" x2="12" y2="29" stroke="#111" stroke-width="1.4"/>
</g>
<g transform="translate(823.5,585.2)">
<g fill="#111" stroke="#111" stroke-width="3.6"><circle cx="-43.4" cy="-44.6" r="8.2"/><circle cx="45.5" cy="-44.6" r="8.2"/><circle cx="-43.4" cy="44.8" r="8.2"/><circle cx="45.5" cy="44.8" r="8.2"/><circle cx="-11.9" cy="-46.5" r="6.6"/><circle cx="26.6" cy="-46.5" r="6.6"/><circle cx="-11.9" cy="45.5" r="6.6"/><circle cx="26.6" cy="45.5" r="6.6"/><circle cx="-49" cy="-31.5" r="6.3"/><circle cx="49.7" cy="-31.5" r="6.3"/><circle cx="-49" cy="31.5" r="6.3"/><circle cx="49.7" cy="31.5" r="6.3"/><circle cx="-47.6" cy="-19.6" r="5.6"/><circle cx="47.6" cy="-19.6" r="5.6"/><circle cx="-47.6" cy="19.6" r="5.6"/><circle cx="47.6" cy="19.6" r="5.6"/><path d="M-50.5,-41.8 H50.5 Q53.5,-41.8 53.5,-38.8 V-13 H51.5 V13 H53.5 V38.8 Q53.5,41.8 50.5,41.8 H-50.5 Q-53.5,41.8 -53.5,38.8 V13 H-51.5 V-13 H-53.5 V-38.8 Q-53.5,-41.8 -50.5,-41.8 Z"/></g>
<circle cx="-43.4" cy="-44.6" r="8.2" fill="#3c3c3c"/><circle cx="-43.4" cy="-45.1" r="5.6" fill="url(#earR)"/><circle cx="45.5" cy="-44.6" r="8.2" fill="#3c3c3c"/><circle cx="45.5" cy="-45.1" r="5.6" fill="url(#earR)"/><circle cx="-43.4" cy="44.8" r="8.2" fill="#3c3c3c"/><circle cx="-43.4" cy="44.3" r="5.6" fill="url(#earR)"/><circle cx="45.5" cy="44.8" r="8.2" fill="#3c3c3c"/><circle cx="45.5" cy="44.3" r="5.6" fill="url(#earR)"/><path d="M-50.5,-41.8 H50.5 Q53.5,-41.8 53.5,-38.8 V-13 H51.5 V13 H53.5 V38.8 Q53.5,41.8 50.5,41.8 H-50.5 Q-53.5,41.8 -53.5,38.8 V13 H-51.5 V-13 H-53.5 V-38.8 Q-53.5,-41.8 -50.5,-41.8 Z" fill="url(#plateG)"/><circle cx="-11.9" cy="-46.5" r="6.6" fill="#fafafa"/><circle cx="26.6" cy="-46.5" r="6.6" fill="#fafafa"/><circle cx="-11.9" cy="45.5" r="6.6" fill="#fafafa"/><circle cx="26.6" cy="45.5" r="6.6" fill="#fafafa"/><circle cx="-49" cy="-31.5" r="6.3" fill="#fafafa"/><circle cx="49.7" cy="-31.5" r="6.3" fill="#fafafa"/><circle cx="-49" cy="31.5" r="6.3" fill="#fafafa"/><circle cx="49.7" cy="31.5" r="6.3" fill="#fafafa"/><circle cx="-47.6" cy="-19.6" r="5.6" fill="#f0f0f2"/><circle cx="47.6" cy="-19.6" r="5.6" fill="#f0f0f2"/><circle cx="-47.6" cy="19.6" r="5.6" fill="#f0f0f2"/><circle cx="47.6" cy="19.6" r="5.6" fill="#f0f0f2"/>
<path d="M-52.0,-13 V13 M52.0,-13 V13" stroke="#111" stroke-width="2.6" fill="none"/>
<circle r="29.5" fill="url(#yelG2)" stroke="#111" stroke-width="1.9"/><circle r="27.2" fill="none" stroke="#111" stroke-width="1.2"/><rect x="-7" y="-8" width="14" height="16" fill="#f4f0dc" opacity="0.8"/>
<circle cx="-11.9" cy="-46.5" r="3.8" fill="#111"/><circle cx="26.6" cy="-46.5" r="3.8" fill="#111"/><circle cx="-11.9" cy="45.5" r="3.8" fill="#111"/><circle cx="26.6" cy="45.5" r="3.8" fill="#111"/><circle cx="-47.6" cy="-19.6" r="3.8" fill="#111"/><circle cx="47.6" cy="-19.6" r="3.8" fill="#111"/><circle cx="-47.6" cy="19.6" r="3.8" fill="#111"/><circle cx="47.6" cy="19.6" r="3.8" fill="#111"/><circle cx="-49" cy="-31.5" r="2.1" fill="#111"/><circle cx="49.7" cy="-31.5" r="2.1" fill="#111"/><circle cx="-49" cy="31.5" r="2.1" fill="#111"/><circle cx="49.7" cy="31.5" r="2.1" fill="#111"/><ellipse cx="-42.9" cy="-44.6" rx="3.6" ry="1.5" fill="#ddd" stroke="#111" stroke-width="0.9" transform="rotate(-30 -42.9 -44.6)"/><ellipse cx="46.0" cy="-44.6" rx="3.6" ry="1.5" fill="#ddd" stroke="#111" stroke-width="0.9" transform="rotate(-30 46.0 -44.6)"/><ellipse cx="-42.9" cy="44.8" rx="3.6" ry="1.5" fill="#ddd" stroke="#111" stroke-width="0.9" transform="rotate(30 -42.9 44.8)"/><ellipse cx="46.0" cy="44.8" rx="3.6" ry="1.5" fill="#ddd" stroke="#111" stroke-width="0.9" transform="rotate(30 46.0 44.8)"/>
<line x1="-49.5" y1="-24" x2="-39.5" y2="-24" stroke="#111" stroke-width="1.7"/><line x1="-38" y1="-37.5" x2="-24.5" y2="-33" stroke="#111" stroke-width="1.4"/><line x1="-49.5" y1="24" x2="-39.5" y2="24" stroke="#111" stroke-width="1.7"/><line x1="-38" y1="37.5" x2="-24.5" y2="33" stroke="#111" stroke-width="1.4"/><line x1="49.5" y1="-24" x2="39.5" y2="-24" stroke="#111" stroke-width="1.7"/><line x1="38" y1="-37.5" x2="24.5" y2="-33" stroke="#111" stroke-width="1.4"/><line x1="49.5" y1="24" x2="39.5" y2="24" stroke="#111" stroke-width="1.7"/><line x1="38" y1="37.5" x2="24.5" y2="33" stroke="#111" stroke-width="1.4"/>
</g>
<rect opacity="1" x="644" y="573" width="35" height="24" fill="url(#brassG)" stroke="#111" stroke-width="1.6"/>
<rect opacity="1" x="644" y="573" width="4" height="24" fill="#222"/>
<rect opacity="1" x="675" y="573" width="4" height="24" fill="#222"/>
<rect x="750" y="573" width="30" height="24" fill="url(#brassG)" stroke="#111" stroke-width="1.6"/>
<rect x="750" y="573" width="4" height="24" fill="#222"/>
<rect x="776" y="573" width="4" height="24" fill="#222"/>
<line x1="774.5" y1="553.9" x2="903.4" y2="553.9" stroke="#111" stroke-width="1.3"/>
<line x1="774.5" y1="616.2" x2="903.4" y2="616.2" stroke="#111" stroke-width="1.3"/>
<line x1="770" y1="543.7" x2="880" y2="543.7" stroke="#111" stroke-width="1.6"/>
<line x1="770" y1="626.3" x2="880" y2="626.3" stroke="#111" stroke-width="1.6"/>
<circle cx="554" cy="399" r="4.3" fill="#111"/><circle cx="880" cy="399" r="4.3" fill="#111"/><circle cx="566" cy="426" r="4.3" fill="#111"/><circle cx="868.5" cy="426" r="4.3" fill="#111"/><circle cx="831.5" cy="462" r="4.3" fill="#111"/><circle cx="880" cy="462" r="4.3" fill="#111"/><circle cx="640" cy="481" r="4.3" fill="#111"/><circle cx="779.4" cy="481" r="4.3" fill="#111"/><circle cx="676.8" cy="510" r="4.3" fill="#111"/><circle cx="750.4" cy="510" r="4.3" fill="#111"/><circle cx="815.2" cy="491" r="4.3" fill="#111"/><circle cx="845.9" cy="491" r="4.3" fill="#111"/><circle cx="824" cy="525" r="4.3" fill="#111"/><circle cx="831.5" cy="525" r="4.3" fill="#111"/><circle cx="671.4" cy="670" r="4.3" fill="#111"/><circle cx="756" cy="670" r="4.3" fill="#111"/><circle cx="645.3" cy="691" r="4.3" fill="#111"/><circle cx="774.6" cy="691" r="4.3" fill="#111"/><circle cx="561" cy="717" r="4.3" fill="#111"/><circle cx="873.4" cy="717" r="4.3" fill="#111"/><circle cx="815" cy="666.6" r="4.3" fill="#111"/><circle cx="846" cy="666.6" r="4.3" fill="#111"/><circle cx="528.2" cy="536" r="4.3" fill="#111"/><circle cx="528.2" cy="634.2" r="4.3" fill="#111"/><circle cx="935.3" cy="543.7" r="4.3" fill="#111"/><circle cx="935.3" cy="626.3" r="4.3" fill="#111"/><circle cx="903.4" cy="554.1" r="4.3" fill="#111"/><circle cx="903.4" cy="615.7" r="4.3" fill="#111"/>
<g fill="#111" stroke="#fff" stroke-width="0.3" font-family="Liberation Sans, sans-serif"><text x="697.4" y="396.0" font-size="23.6" textLength="59.66" lengthAdjust="spacing">354,5</text><text x="697.8" y="423.3" font-size="23.6" textLength="59.66" lengthAdjust="spacing">328,5</text><text x="845.7" y="458.85" font-size="23.6" textLength="25.65" lengthAdjust="spacing">53</text><text x="689.8" y="477.9" font-size="23.6" textLength="59.06" lengthAdjust="spacing">151,5</text><text x="704.8" y="507.1" font-size="23.6" textLength="27.05" lengthAdjust="spacing">80</text><text x="853.0" y="487.1" font-size="23.6" textLength="60.02" lengthAdjust="spacing">G3/4&#8221;</text><text x="796.7" y="521.85" font-size="23.6" textLength="12.93" lengthAdjust="spacing">8</text><text x="698.4" y="667.3" font-size="23.6" textLength="45.53" lengthAdjust="spacing">91,5</text><text x="688.6" y="689.0" font-size="23.6" textLength="59.06" lengthAdjust="spacing">140,5</text><text x="689.2" y="714.7" font-size="23.6" textLength="58.86" lengthAdjust="spacing">339,5</text><text x="855.0" y="663.7" font-size="23.6" textLength="59.62" lengthAdjust="spacing">G3/4&#8221;</text><text transform="translate(525,598.2) rotate(-90)" x="0" y="0" font-size="23.6" textLength="38.88" lengthAdjust="spacing">107</text><text transform="translate(899.6,598) rotate(-90)" x="0" y="0" font-size="23.6" textLength="24.65" lengthAdjust="spacing">67</text><text transform="translate(927.8,597.3) rotate(-90)" x="0" y="0" font-size="23.6" textLength="26.75" lengthAdjust="spacing">90</text></g>
<text x="716.6" y="297.6" font-size="14.5" font-weight="bold" text-anchor="middle" textLength="69.8" lengthAdjust="spacing" fill="#111" font-family="Liberation Sans, sans-serif">UITGANG</text>
<path d="M713.7,306.6 L731.7,326.4 L726.3,326.4 L726.3,346.6 L701,346.6 L701,326.4 L695.7,326.4 Z" fill="#fff" stroke="#111" stroke-width="1.7" stroke-linejoin="miter"/>
<path d="M828.8,386.8 L844.6,369.7 L839.6,369.7 L839.6,352 L818,352 L818,369.7 L813,369.7 Z" fill="#fff" stroke="#111" stroke-width="1.7"/>
<path d="M828.4,724.4 L844.3,741.4 L840,741.4 L840,758.6 L817,758.6 L817,741.4 L812.4,741.4 Z" fill="#fff" stroke="#111" stroke-width="1.7" stroke-linejoin="miter"/>
<path d="M986.7,587.4 L966,568.5 L966,574.5 L944.4,574.5 L944.4,600 L966,600 L966,606.3 Z" fill="#fff" stroke="#111" stroke-width="1.7"/>
<circle cx="865.3" cy="366.1" r="13.6" fill="#2266c4"/>
<text x="865.3" y="373" font-size="19" font-weight="bold" text-anchor="middle" fill="#fff" font-family="Liberation Sans, sans-serif">C</text>
<circle cx="865.7" cy="746.5" r="13.6" fill="#ae1b1b"/>
<text x="866" y="753.7" font-size="18.3" font-weight="bold" text-anchor="middle" fill="#fff" font-family="Liberation Sans, sans-serif">H</text>
</svg>
</body></html>
